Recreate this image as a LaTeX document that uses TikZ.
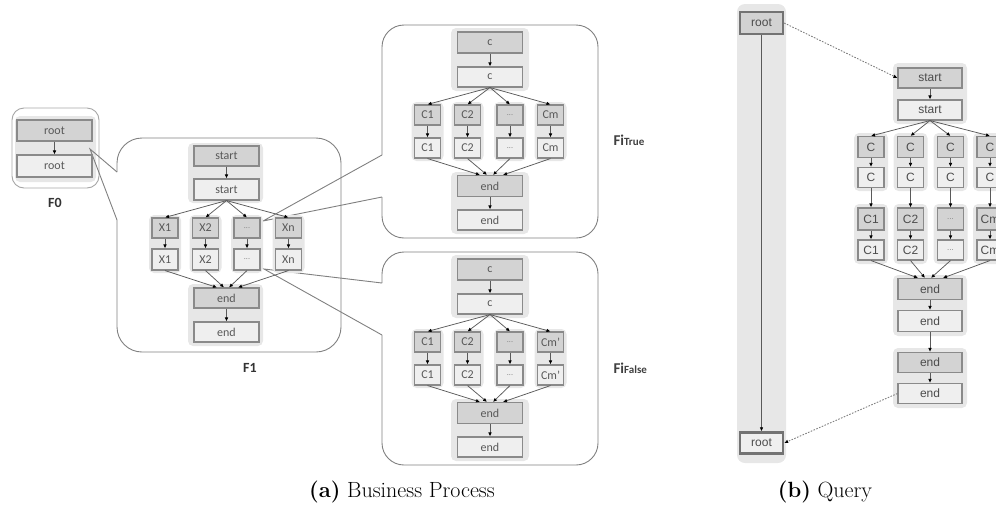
\documentclass[tikz,border=0pt]{standalone}
\usepackage{fontspec}
\newfontfamily\carl{Carlito}
\newfontfamily\lsans{Liberation Sans}
\usetikzlibrary{arrows.meta}
\definecolor{nodeD}{HTML}{D3D3D3}
\definecolor{nodeL}{HTML}{EFEFEF}
\definecolor{nborder}{HTML}{8A8A8A}
\definecolor{grp}{HTML}{E7E7E7}
\definecolor{txtc}{HTML}{585858}
\definecolor{boxc}{HTML}{808080}
\definecolor{linec}{HTML}{5A5A5A}
\newcommand\dts{{\fontsize{8}{9}\selectfont\color{gray}...}}
\begin{document}
\begin{tikzpicture}[x=1pt,y=-1pt,
  nd/.style={draw=nborder, line width=1.1pt, inner sep=0pt, text=txtc,
     font=\carl\fontsize{12}{14}\selectfont, minimum height=20pt},
  dk/.style={nd, fill=nodeD},
  lt/.style={nd, fill=nodeL},
  wide/.style={minimum width=65pt},
  narrow/.style={minimum width=26pt},
  qf/.style={font=\lsans\fontsize{12}{14}\selectfont, text=black!70},
  grpbg/.style={fill=grp, rounded corners=5pt},
  bigbox/.style={draw=boxc, line width=0.9pt},
  arr/.style={draw=linec, line width=0.75pt, -{Latex[length=4pt,width=3.6pt,color=black]}},
  qlink/.style={draw=gray, line width=0.9pt, dash pattern=on 1.6pt off 1.4pt, -{Latex[length=4pt,width=3.6pt,color=black]}},
  flabel/.style={font=\carl\bfseries\fontsize{14}{16}\selectfont, text=black!80},
  filabel/.style={anchor=west, font=\carl\bfseries, text=black!75},
  caption/.style={font=\fontsize{22}{25}\selectfont},
]
\useasboundingbox (0,0) rectangle (996,517);
\clip (0,0) rectangle (996,517);

% ---------------- F0 ----------------
\draw[draw=gray!70, line width=0.9pt, rounded corners=12pt] (12,108) rectangle (99,188);
\fill[grpbg] (15,116) rectangle (96,182);
\node[flabel] (f0l) at (55,203) {F0};

% ---------------- F1 callout ----------------
\draw[bigbox, rounded corners=25pt] (117,172) -- (117,138) -- (341,138) -- (341,352) -- (117,352) -- (117,220);
\coordinate (f0tip) at (90,149);
\draw[bigbox] (117,172) -- (f0tip) -- (117,220);
\node[flabel] (f1l) at (250,368) {F1};

\node[dk, minimum width=75pt, minimum height=21pt] (f0a) at (54.5,130.5) {root};
\node[lt, minimum width=75pt, minimum height=22pt] (f0b) at (54.5,166) {root};
\draw[arr] (f0a) -- (f0b);

% ---------------- Fi callouts ----------------
\draw[bigbox, rounded corners=22pt] (382,155) -- (382,25) -- (598,25) -- (598,238) -- (382,238) -- (382,197);
\coordinate (ttip) at (263,221);
\draw[bigbox] (382,155) -- (ttip) -- (382,197);
\draw[bigbox, rounded corners=22pt] (382,283) -- (382,252) -- (598,252) -- (598,465) -- (382,465) -- (382,335);
\coordinate (ftip) at (264,269);
\draw[bigbox] (382,283) -- (ftip) -- (382,335);

\node[filabel] (ltrue) at (610,140)
  {\fontsize{15}{17}\selectfont Fi\fontsize{11}{13}\selectfont True};
\node[filabel] (lfalse) at (610,368)
  {\fontsize{15}{17}\selectfont Fi\fontsize{11}{13}\selectfont False};

% ---------------- F1 content ----------------
\fill[grpbg] (188,143) rectangle (263,203);
\fill[grpbg] (188,284) rectangle (263,346);
\foreach \cx in {165,205.5,247,288.5} \fill[grpbg] (\cx-16,215) rectangle (\cx+16,273);
\node[dk,wide] (s1) at (226.5,156) {start};
\node[lt,wide,minimum height=21pt] (s2) at (226.5,189.5) {start};
\draw[arr] (s1) -- (s2);
\node[dk,wide] (e1) at (226.5,298) {end};
\node[lt,wide] (e2) at (226.5,332) {end};
\draw[arr] (e1) -- (e2);
\foreach \i/\cx/\lab/\dx in {1/165/X1/-9.5pt, 2/205.5/X2/-2.5pt, 3/247/\dts/2.5pt, 4/288.5/Xn/11.5pt} {
  \node[dk,narrow] (xa\i) at (\cx,228) {\lab};
  \node[lt,narrow,minimum height=21pt] (xb\i) at (\cx,259.5) {\lab};
  \draw[arr] (xa\i) -- (xb\i);
  \draw[arr] (s2.south) -- (xa\i.north);
  \draw[arr] (xb\i.south) -- ([xshift=\dx]e1.north);
}

% ---------------- Fi contents ----------------
\foreach \p/\oy/\lm in {t/0/Cm, f/227/Cm’} {
  \fill[grpbg] (451,28+\oy) rectangle (529,91+\oy);
  \fill[grpbg] (451,172+\oy) rectangle (529,234+\oy);
  \foreach \cx in {427.5,467.5,510,550.5} \fill[grpbg] (\cx-16,102+\oy) rectangle (\cx+16,161+\oy);
  \node[dk,wide,minimum height=21pt] (ca\p) at (490,42.5+\oy) {c};
  \node[lt,wide] (cb\p) at (490,77+\oy) {c};
  \draw[arr] (ca\p) -- (cb\p);
  \node[dk,wide,minimum height=21pt] (ea\p) at (490,186+\oy) {end};
  \node[lt,wide] (eb\p) at (490,220+\oy) {end};
  \draw[arr] (ea\p) -- (eb\p);
  \foreach \i/\cx/\lab/\dx in {1/427.5/C1/-10pt, 2/467.5/C2/-3pt, 3/510/\dts/3pt, 4/550.5/\lm/13pt} {
    \node[dk,narrow] (k\i a\p) at (\cx,115+\oy) {\lab};
    \node[lt,narrow] (k\i b\p) at (\cx,148+\oy) {\lab};
    \draw[arr] (k\i a\p) -- (k\i b\p);
    \draw[arr] (cb\p.south) -- (k\i a\p.north);
    \draw[arr] (k\i b\p.south) -- ([xshift=\dx]ea\p.north);
  }
}

% ---------------- Query ----------------
\fill[fill=grp, rounded corners=8pt] (737,4) rectangle (786,463);
\node[nd, qf, fill=gray!35, draw=gray!110, line width=2.4pt, minimum width=43pt, minimum height=22pt] (qr1) at (761.5,23) {root};
\node[nd, qf, fill=nodeL, draw=gray!110, line width=2.4pt, minimum width=43pt, minimum height=21pt] (qr2) at (761.5,443) {root};
\draw[arr] (qr1) -- (qr2);

\fill[grpbg] (893,63) rectangle (967,124);
\fill[grpbg] (893,275) rectangle (967,336);
\fill[grpbg] (893,348) rectangle (967,408);
\foreach \cx in {871,910.5,950.5,990} {
  \fill[grpbg] (\cx-17,133) rectangle (\cx+17,191);
  \fill[grpbg] (\cx-17,204) rectangle (\cx+17,264);
}
\node[dk,qf,minimum width=64pt] (qs1) at (930,78) {start};
\node[lt,qf,minimum width=64pt] (qs2) at (930,110) {start};
\draw[arr] (qs1) -- (qs2);
\node[dk,qf,minimum width=64pt,minimum height=21pt] (qe1) at (930,289) {end};
\node[lt,qf,minimum width=64pt,minimum height=21pt] (qe2) at (930,321) {end};
\node[dk,qf,minimum width=64pt] (qe3) at (930,362.5) {end};
\node[lt,qf,minimum width=64pt] (qe4) at (930,393.5) {end};
\draw[arr] (qe1) -- (qe2);
\draw[arr] (qe2) -- (qe3);
\draw[arr] (qe3) -- (qe4);
\foreach \i/\cx/\lab/\dx in {1/871/C1/-12pt, 2/910.5/C2/-5pt, 3/950.5/\dts/1pt, 4/990/Cm/13pt} {
  \node[dk,qf,narrow,minimum height=21pt] (qa\i) at (\cx,147) {C};
  \node[lt,qf,narrow] (qb\i) at (\cx,177.5) {C};
  \node[dk,qf,narrow,minimum height=22pt] (qc\i) at (\cx,219) {\lab};
  \node[lt,qf,narrow] (qd\i) at (\cx,250) {\lab};
  \draw[arr] (qs2.south) -- (qa\i.north);
  \draw[arr] (qa\i) -- (qb\i);
  \draw[arr] (qb\i) -- (qc\i);
  \draw[arr] (qc\i) -- (qd\i);
  \draw[arr] (qd\i.south) -- ([xshift=\dx]qe1.north);
}
\draw[qlink] (qr1.east) -- (qs1.west);
\draw[qlink] (qe4.west) -- (qr2.east);

% ---------------- captions ----------------
\node[caption] (capa) at (402,492) {\textbf{(a)} Business Process};
\node[caption] (capb) at (825,492) {\textbf{(b)} Query};
\end{tikzpicture}
\end{document}
